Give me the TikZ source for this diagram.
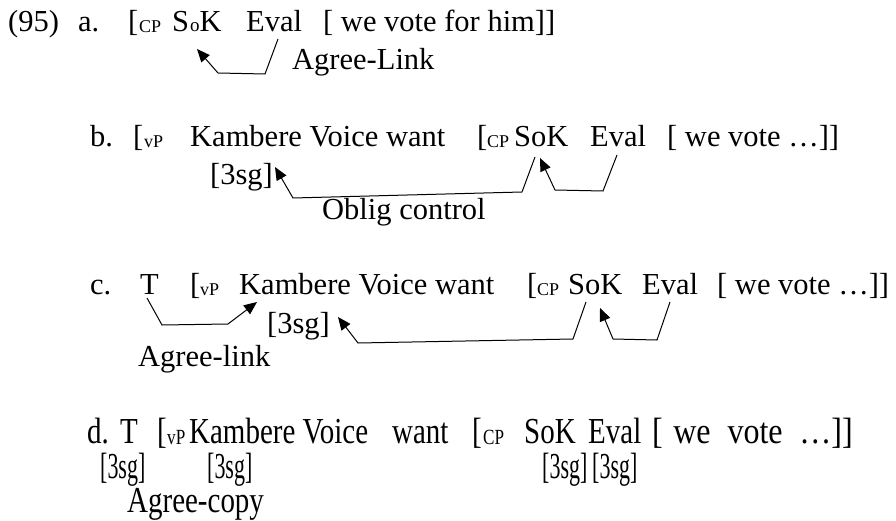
\documentclass[tikz,border=0pt]{standalone}
\usepackage{fontspec}
\setmainfont{Liberation Serif}
\usepackage{graphicx}
\usetikzlibrary{arrows.meta}
% taller, narrower glyphs for the last example line
\newcommand{\tallt}[1]{\scalebox{0.95}[1.2]{#1}}
\newcommand{\narrowt}[1]{\scalebox{0.72}[1.2]{#1}}
\tikzset{
  tx/.style={anchor=base west, inner sep=0pt, font=\fontsize{30.5}{34}\selectfont},
  sb/.style={anchor=base west, inner sep=0pt, font=\fontsize{18}{20}\selectfont},
  link/.style={line width=1pt, line join=miter, -{Triangle[length=13pt,width=11pt]}},
}
\begin{document}
\begin{tikzpicture}[x=1pt,y=-1pt]
\useasboundingbox (0,0) rectangle (896,521);

% ---------- (95) a.
\node[tx] (num)  at (8,32)   {(95)};
\node[tx] (la)   at (78,32)  {a.};
\node[tx] (abr)  at (128,32) {[};
\node[sb] (acp)  at (139,33) {CP};
\node[tx] (asok) at (172,32) {S\kern1pt{\fontsize{19}{20}\selectfont o}K};
\node[tx] (aev)  at (246,32) {Eval};
\node[tx] (arest) at (323,32) {[ we vote for him]]};
\node[tx] (alab) at (292,70) {Agree-Link};

\coordinate (a1) at (278,39);
\coordinate (a2) at (265,74);
\coordinate (a3) at (218,73);
\coordinate (a4) at (197,49);
\draw[link] (a1) -- (a2) -- (a3) -- (a4);

% ---------- b.
\node[tx] (lb)   at (90,147)  {b.};
\node[tx] (bbr)  at (133,147) {[};
\node[sb] (bvp)  at (144,148) {vP};
\node[tx] (bkvw) at (190,147) {Kambere Voice want};
\node[tx] (bbr2) at (477,147) {[};
\node[sb] (bcp)  at (487,148) {CP};
\node[tx] (bsok) at (514,147) {SoK};
\node[tx] (bev)  at (590,147) {Eval};
\node[tx] (brest) at (667,147) {[ we vote …]]};
\node[tx] (bsg)  at (210,185) {[3sg]};
\node[tx] (blab) at (322,220) {Oblig control};

\coordinate (b1) at (535,157);
\coordinate (b2) at (522,192);
\coordinate (b3) at (293,198);
\coordinate (b4) at (275,167);
\draw[link] (b1) -- (b2) -- (b3) -- (b4);

\coordinate (b5) at (617,155);
\coordinate (b6) at (603,191);
\coordinate (b7) at (555,190);
\coordinate (b8) at (540,158);
\draw[link] (b5) -- (b6) -- (b7) -- (b8);

% ---------- c.
\node[tx] (lc)   at (90,294)  {c.};
\node[tx] (cT)   at (140,294) {T};
\node[tx] (cbr)  at (190,294) {[};
\node[sb] (cvp)  at (200,295) {vP};
\node[tx] (ckvw) at (239,294) {Kambere Voice want};
\node[tx] (cbr2) at (527,294) {[};
\node[sb] (ccp)  at (537,295) {CP};
\node[tx] (csok) at (568,294) {SoK};
\node[tx] (cev)  at (642,294) {Eval};
\node[tx] (crest) at (717,294) {[ we vote …]]};
\node[tx] (csg)  at (267,333) {[3sg]};
\node[tx] (clab) at (138,366) {Agree-link};

\coordinate (c1) at (147,298);
\coordinate (c2) at (162,325);
\coordinate (c3) at (228,324);
\coordinate (c4) at (257,302);
\draw[link] (c1) -- (c2) -- (c3) -- (c4);

\coordinate (c5) at (586,302);
\coordinate (c6) at (573,339);
\coordinate (c7) at (358,343);
\coordinate (c8) at (338,317);
\draw[link] (c5) -- (c6) -- (c7) -- (c8);

\coordinate (c9)  at (670,302);
\coordinate (c10) at (657,340);
\coordinate (c11) at (613,339);
\coordinate (c12) at (600,308);
\draw[link] (c9) -- (c10) -- (c11) -- (c12);

% ---------- d.
\node[tx] (ld)   at (87,443)  {\tallt{d.}};
\node[tx] (dT)   at (120,443) {\tallt{T}};
\node[tx] (dbr)  at (157,443) {\tallt{[}};
\node[sb] (dvp)  at (167,444) {\tallt{vP}};
\node[tx] (dkv)  at (189,443) {\tallt{Kambere Voice}};
\node[tx] (dw)   at (392,443) {\tallt{want}};
\node[tx] (dbr2) at (472,443) {\tallt{[}};
\node[sb] (dcp)  at (483,444) {\tallt{CP}};
\node[tx] (dsok) at (524,443) {\tallt{SoK}};
\node[tx] (dev)  at (588,443) {\tallt{Eval}};
\node[tx] (drest) at (652,443) {\scalebox{1.05}[1.2]{[\hspace{10pt}we\hspace{16pt}vote\hspace{16pt}…]]}};
\node[tx] (dsg1) at (100,478) {\narrowt{[3sg]}};
\node[tx] (dsg2) at (207,478) {\narrowt{[3sg]}};
\node[tx] (dsg3) at (542,478) {\narrowt{[3sg]}};
\node[tx] (dsg4) at (592,478) {\narrowt{[3sg]}};
\node[tx] (dlab) at (127,512) {\tallt{Agree-copy}};
\end{tikzpicture}
\end{document}
